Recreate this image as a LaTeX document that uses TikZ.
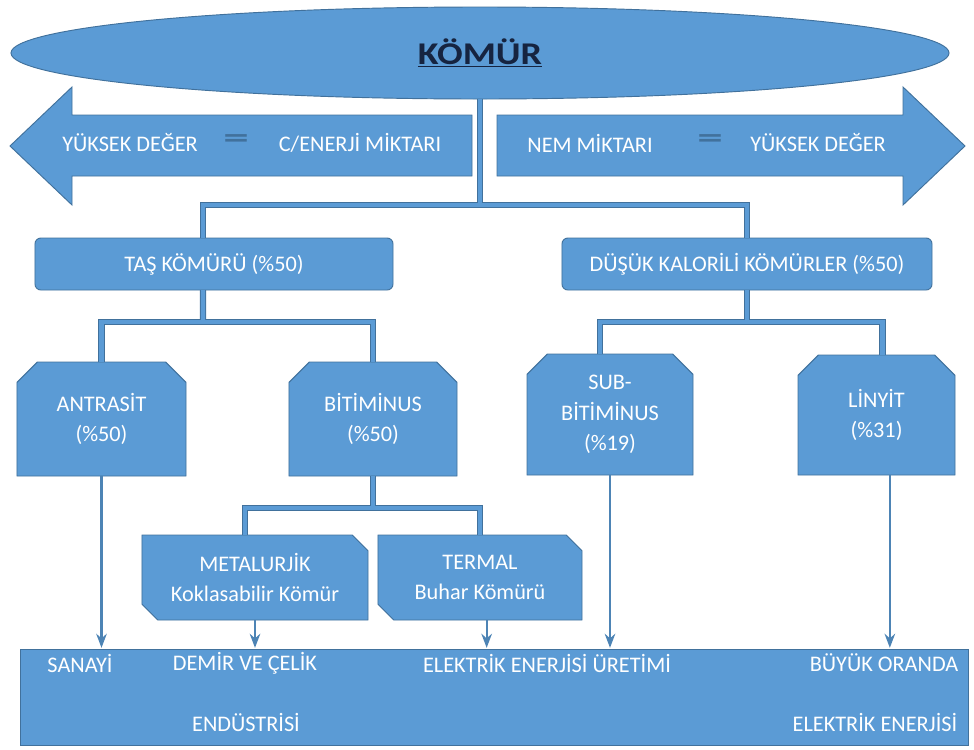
\documentclass[tikz,border=0pt]{standalone}
\usepackage{fontspec}
\setmainfont{Carlito}
\usetikzlibrary{shapes.geometric,shapes.misc,arrows.meta}
\definecolor{coalblue}{RGB}{91,155,213}
\definecolor{coalline}{RGB}{65,113,156}
\definecolor{titlenavy}{RGB}{22,36,64}
\newcommand{\komurbaglar}[1]{%
  \draw[#1] (komur.south) -- (kol);
  \draw[#1] ([xshift=-0.33cm]tas.north) |- (kol) -| (dusuk.north);
  \draw[#1] ([xshift=-0.33cm]tas.south) -- (taskol);
  \draw[#1] (antrasit.north) |- (taskol) -| (bitiminus.north);
  \draw[#1] (dusuk.south) -- (dusukkol);
  \draw[#1] ([xshift=-0.3cm]sub.north) |- (dusukkol) -| ([xshift=0.18cm]linyit.north);
  \draw[#1] (bitiminus.south) -- (bitkol);
  \draw[#1] ([xshift=-0.3cm]metal.north) |- (bitkol) -| (termal.north);
}
\begin{document}
\begin{tikzpicture}[x=0.03cm, y=-0.03cm, >=Stealth,
    every node/.style={font=\fontsize{19}{26}\selectfont, text=white, outer sep=0pt, inner sep=2pt},
    blk/.style={fill=coalblue, draw=coalline, line width=0.8pt},
    catbox/.style={blk, rectangle, rounded corners=5pt, minimum height=1.56cm},
    snipbox/.style={blk, chamfered rectangle, chamfered rectangle corners={north west,north east},
      chamfered rectangle xsep=0.5cm, align=center},
    diagbox/.style={blk, chamfered rectangle, chamfered rectangle corners={north east,south west},
      chamfered rectangle xsep=0.36cm, align=center, minimum height=2.55cm},
    esit/.style={text=coalline, font=\fontsize{19}{26}\selectfont\bfseries},
    barout/.style={draw=coalline, line width=5.2pt},
    barin/.style={draw=coalblue, line width=3.6pt},
    feed/.style={draw=coalblue!85!black, line width=2pt, ->, shorten >=1pt}]
\useasboundingbox (0,0) rectangle (974,749);
\draw[blk] (472,115) -- (72,115) -- (72,87) -- (10,146) -- (72,205) -- (72,176) -- (472,176) -- cycle;
\draw[blk] (497,115) -- (903,115) -- (903,87) -- (965,146) -- (903,205) -- (903,176) -- (497,176) -- cycle;
\node (yuksek1) at (130,143) {YÜKSEK DEĞER};
\node[esit] (esit1) at (236,141) {\scalebox{2.3}[1.3]{=}};
\node (cenerji) at (360,143) {C/ENERJİ MİKTARI};
\node (nem) at (590,143) {NEM MİKTARI};
\node[esit] (esit2) at (710,141) {\scalebox{2.3}[1.3]{=}};
\node (yuksek2) at (818,143) {YÜKSEK DEĞER};
\node[blk, ellipse, minimum width=28.14cm, minimum height=2.76cm, text=titlenavy,
  font=\fontsize{27}{30}\selectfont\bfseries] (komur) at (480,53) {\scalebox{1.2}[1]{\underline{KÖMÜR}}};
\node[catbox, minimum width=10.74cm] (tas) at (214,264) {TAŞ KÖMÜRÜ (\%50)};
\node[catbox, minimum width=11.1cm] (dusuk) at (747,264) {DÜŞÜK KALORİLİ KÖMÜRLER (\%50)};
\node[snipbox, minimum width=5.07cm, minimum height=3.42cm] (antrasit) at (101.5,419) {ANTRASİT\\(\%50)};
\node[snipbox, minimum width=5.04cm, minimum height=3.42cm] (bitiminus) at (373,419) {BİTİMİNUS\\(\%50)};
\node[snipbox, minimum width=4.98cm, minimum height=3.63cm] (sub) at (610,414.5) {SUB-\\BİTİMİNUS\\(\%19)};
\node[snipbox, minimum width=4.71cm, minimum height=3.6cm] (linyit) at (876.5,415) {LİNYİT\\(\%31)};
\node[diagbox, minimum width=6.78cm] (metal) at (255,577.5) {METALURJİK\\Koklasabilir Kömür};
\node[diagbox, minimum width=6.12cm] (termal) at (480,577.5) {TERMAL\\Buhar Kömürü};
\node[blk, rectangle, minimum width=28.44cm, minimum height=2.88cm] (alan) at (494,697) {};
\coordinate (kol) at (480,205);
\coordinate (taskol) at (203,322);
\coordinate (dusukkol) at (dusuk.south |- 0,322);
\coordinate (bitkol) at (373,508);
\komurbaglar{barout}
\komurbaglar{barin}
\draw[feed] (antrasit.south) -- (antrasit.south |- alan.north);
\draw[feed] (metal.south) -- (metal.south |- alan.north);
\draw[feed] ([xshift=0.2cm]termal.south) -- ([xshift=0.2cm]termal.south |- alan.north);
\draw[feed] (sub.south) -- (sub.south |- alan.north);
\draw[feed] ([xshift=0.4cm]linyit.south) -- ([xshift=0.4cm]linyit.south |- alan.north);
\node (sanayi) at (80,663) {SANAYİ};
\node (demir) at (245,663) {DEMİR VE ÇELİK};
\node (uretim) at (547,663) {ELEKTRİK ENERJİSİ ÜRETİMİ};
\node (buyuk) at (884,663) {BÜYÜK ORANDA};
\node (endustri) at (246,722) {ENDÜSTRİSİ};
\node (enerjisi) at (875,722) {ELEKTRİK ENERJİSİ};
\end{tikzpicture}
\end{document}
